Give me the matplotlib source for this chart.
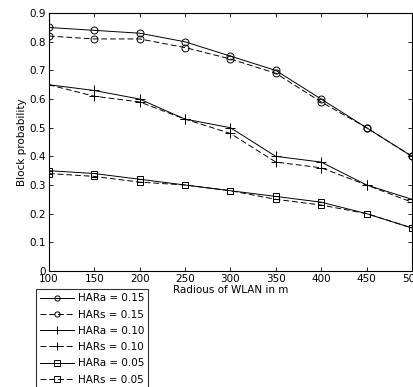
import matplotlib
matplotlib.use("Agg")
import matplotlib.pyplot as plt
from matplotlib.ticker import MultipleLocator

radius = [100, 150, 200, 250, 300, 350, 400, 450, 500]
hara_015 = [0.85, 0.84, 0.83, 0.80, 0.75, 0.70, 0.60, 0.50, 0.40]
hars_015 = [0.82, 0.81, 0.81, 0.78, 0.74, 0.69, 0.59, 0.50, 0.40]
hara_010 = [0.65, 0.63, 0.60, 0.53, 0.50, 0.40, 0.38, 0.30, 0.25]
hars_010 = [0.65, 0.61, 0.59, 0.53, 0.48, 0.38, 0.36, 0.30, 0.24]
hara_005 = [0.35, 0.34, 0.32, 0.30, 0.28, 0.26, 0.24, 0.20, 0.15]
hars_005 = [0.34, 0.33, 0.31, 0.30, 0.28, 0.25, 0.23, 0.20, 0.15]
labels = ["HARa = 0.15", "HARs = 0.15", "HARa = 0.10",
          "HARs = 0.10", "HARa = 0.05", "HARs = 0.05"]

plt.rcParams['font.family'] = ['DejaVu Sans']
fig = plt.figure(figsize=(4.14, 3.87), dpi=100)
ax = fig.add_axes([0.118, 0.300, 0.877, 0.666])

series = [
    (hara_015, 'o', '-'), (hars_015, 'o', '--'),
    (hara_010, '+', '-'), (hars_010, '+', '--'),
    (hara_005, 's', '-'), (hars_005, 's', '--'),
]
for (vals, m, ls), lab in zip(series, labels):
    ax.plot(radius, vals, color='black', linestyle=ls, linewidth=0.7,
            marker=m, markersize=5 if m != '+' else 7, markerfacecolor='none',
            markeredgecolor='black', markeredgewidth=0.7, label=lab,
            dashes=(6, 3) if ls == '--' else (None, None))

ax.set_xlim(100, 500)
ax.set_ylim(0, 0.9)
ax.xaxis.set_major_locator(MultipleLocator(50))
ax.set_yticks([0, 0.1, 0.2, 0.3, 0.4, 0.5, 0.6, 0.7, 0.8, 0.9])
ax.set_yticklabels(['0', '0.1', '0.2', '0.3', '0.4', '0.5', '0.6', '0.7', '0.8', '0.9'])
ax.tick_params(direction='in', top=True, right=True, labelsize=7.5, length=3,
               width=0.6, pad=2)
for s in ax.spines.values():
    s.set_linewidth(0.8)
ax.set_xlabel("Radious of WLAN in m", fontsize=7.5, labelpad=1)
ax.set_ylabel("Block probability", fontsize=7.5, labelpad=2)

leg = fig.legend(loc='upper left', bbox_to_anchor=(0.087, 0.253),
                 fontsize=7.5, frameon=True, fancybox=False, handlelength=3.2,
                 labelspacing=0.6, borderpad=0.4, handletextpad=0.4,
                 borderaxespad=0, markerscale=0.75)
leg.get_frame().set_edgecolor('black')
leg.get_frame().set_linewidth(0.8)

fig.savefig("out.png", dpi=100)
